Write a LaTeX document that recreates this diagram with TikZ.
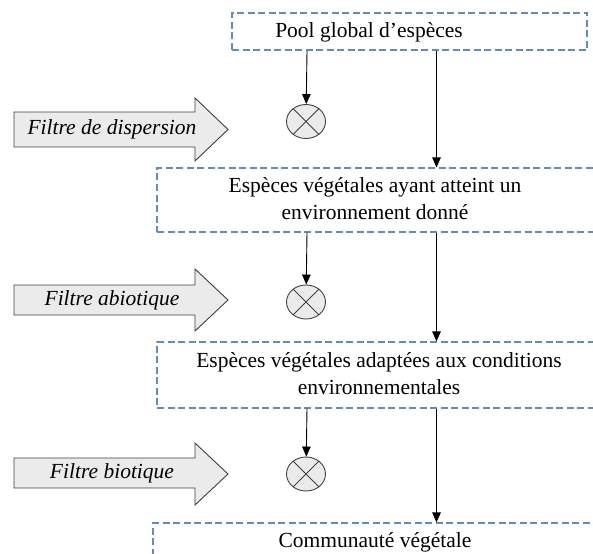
\documentclass[tikz,border=0pt]{standalone}
\usepackage{fontspec}
\setmainfont{Liberation Serif}[ItalicFont={Liberation Serif Italic}]
\usetikzlibrary{arrows.meta,shapes.geometric}
\definecolor{dashblue}{RGB}{100,140,184}
\definecolor{arrowfill}{RGB}{235,235,235}
\definecolor{edgegray}{RGB}{64,64,64}
\tikzset{
  stagebox/.style={draw=dashblue, line width=1.1pt, dash pattern=on 7pt off 3.5pt, rectangle, inner sep=0pt},
  stagetext/.style={align=center, font=\fontsize{21.5}{27}\selectfont, inner sep=0pt},
  filtertext/.style={font=\fontsize{21.5}{26}\selectfont\itshape, inner sep=0pt},
  blockarrow/.style={draw=edgegray, fill=arrowfill, line width=0.9pt, line join=miter},
  sieve/.style={ellipse, draw=edgegray, fill=arrowfill, line width=0.9pt, minimum width=39pt, minimum height=34pt, inner sep=0pt},
  conn/.style={draw=black, line width=0.9pt, -{Triangle[length=10pt,width=8.5pt]}},
}
\begin{document}
\begin{tikzpicture}[x=1pt, y=-1pt]
  \clip (0,0) rectangle (593,553);
  \useasboundingbox (0,0) rectangle (593,553);

  % stage boxes
  \node[stagebox, minimum width=355pt, minimum height=37pt] (b1) at (409.5,31.5) {};
  \node[stagebox, minimum width=443pt, minimum height=64pt] (b2) at (378.5,200) {};
  \node[stagebox, minimum width=443pt, minimum height=66pt] (b3) at (378.5,375) {};
  \node[stagebox, minimum width=447pt, minimum height=57pt] (b4) at (376.5,551.5) {};

  \node[stagetext] (t1) at (369,32) {Pool global d’espèces};
  \node[stagetext] (t2) at (375,199) {Espèces végétales ayant atteint un\\environnement donné};
  \node[stagetext] (t3) at (379,374) {Espèces végétales adaptées aux conditions\\environnementales};
  \node[stagetext] (t4) at (375,542) {Communauté végétale};

  % filter arrows
  \draw[blockarrow] (14,112) -- (195,112) -- (195,98) -- (228,129.5) -- (195,161) -- (195,147) -- (14,147) -- cycle;
  \draw[blockarrow] (14,285) -- (195,285) -- (195,269) -- (228,300) -- (195,331) -- (195,315) -- (14,315) -- cycle;
  \draw[blockarrow] (14,458) -- (195,458) -- (195,443) -- (228,474) -- (195,505) -- (195,488) -- (14,488) -- cycle;
  \node[filtertext] (f1) at (112,129.5) {Filtre de dispersion};
  \node[filtertext] (f2) at (112,300) {Filtre abiotique};
  \node[filtertext] (f3) at (112,473) {Filtre biotique};

  % sieves
  \node[sieve] (c1) at (306,121.5) {};
  \node[sieve] (c2) at (306,302) {};
  \node[sieve] (c3) at (306,474) {};
  \foreach \c in {c1,c2,c3} {
    \draw[edgegray, line width=0.9pt] (\c.45) -- (\c.225);
    \draw[edgegray, line width=0.9pt] (\c.135) -- (\c.315);
  }

  % connectors
  \coordinate (xl) at (307,0);
  \coordinate (xr) at (436.5,0);
  \draw[conn] (b1.south -| xl) -- (c1);
  \draw[conn] (b2.south -| xl) -- (c2);
  \draw[conn] (b3.south -| xl) -- (c3);
  \draw[conn] (b1.south -| xr) -- (b2.north -| xr);
  \draw[conn] (b2.south -| xr) -- (b3.north -| xr);
  \draw[conn] (b3.south -| xr) -- (b4.north -| xr);
\end{tikzpicture}
\end{document}
